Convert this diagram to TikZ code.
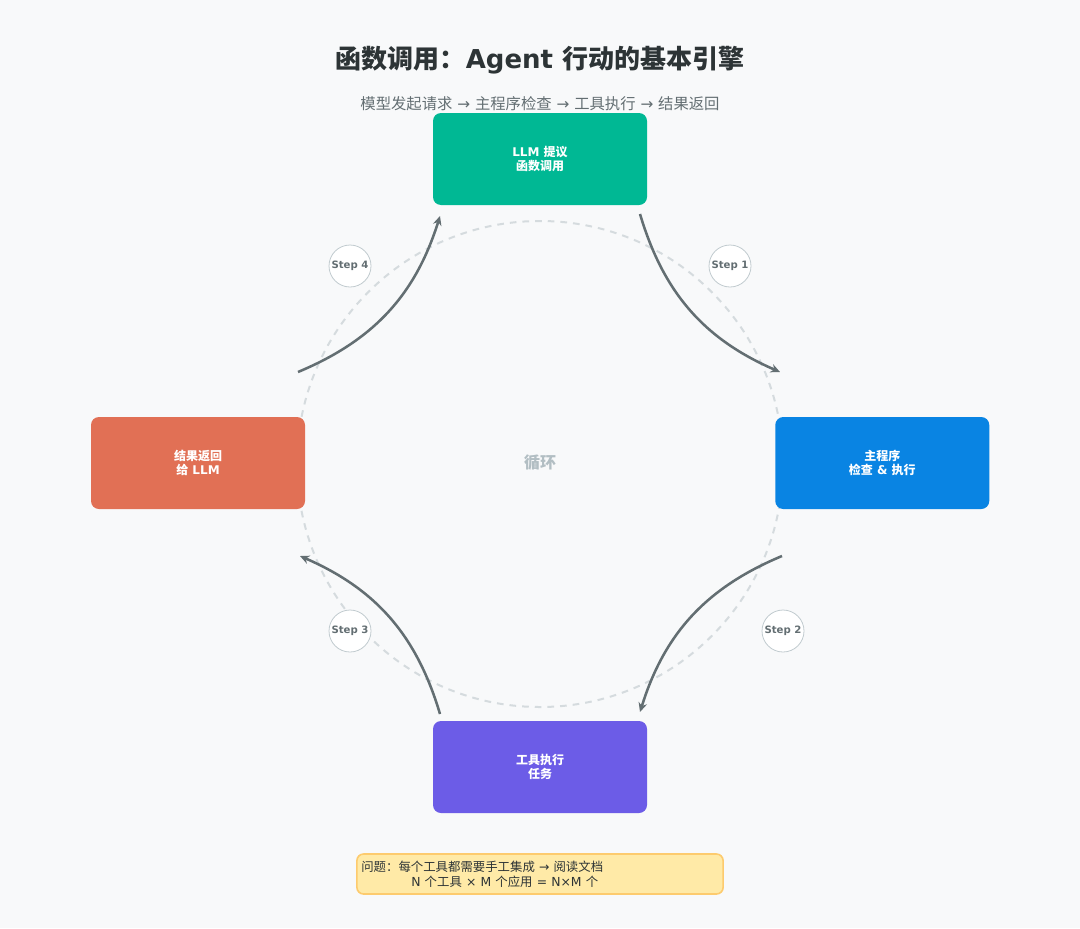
\documentclass[tikz,border=0pt]{standalone}
\usepackage{fontspec}
\setmainfont{DejaVu Sans}
\newfontfamily\zhfont{Noto Sans CJK SC}
\newcommand{\zh}[1]{{\zhfont #1}}
\usetikzlibrary{arrows.meta,calc}
\definecolor{bgcol}{HTML}{F8F9FA}
\definecolor{ink}{HTML}{2D3436}
\definecolor{greytxt}{HTML}{636E72}
\definecolor{ringcol}{HTML}{D5DBDE}
\definecolor{softgrey}{HTML}{B2BEC3}
\definecolor{llmcol}{HTML}{00B894}
\definecolor{progcol}{HTML}{0984E3}
\definecolor{toolcol}{HTML}{6C5CE7}
\definecolor{backcol}{HTML}{E17055}
\definecolor{notefill}{HTML}{FFEAA7}
\definecolor{noteline}{HTML}{FDCB6E}
\tikzset{
  stagebox/.style = {rectangle, rounded corners=6pt, minimum width=160.5pt,
    minimum height=69pt, text=white, align=center, font=\bfseries\fontsize{9}{10}\selectfont},
  stepdot/.style = {circle, draw=softgrey!80, line width=0.6pt, fill=white,
    minimum size=31.5pt, inner sep=0pt, text=greytxt, font=\bfseries\fontsize{7.6}{9}\selectfont},
  flow/.style = {draw=greytxt, line width=1.9pt, -{Stealth[length=7pt,width=6.5pt]}},
}
\begin{document}
\begin{tikzpicture}[x=0.75pt, y=-0.75pt, node distance=228pt]
    % background and frame
    \fill[bgcol] (0,0) rectangle (1080,928);
    % titles
    \node[text=ink, font=\bfseries\fontsize{19.5}{22}\selectfont] (title) at (540,60)
        {\zh{函数调用：}Agent \zh{行动的基本引擎}};
    \node[text=greytxt, font=\fontsize{11.5}{13}\selectfont] (subtitle) at (540,104)
        {\zh{模型发起请求} → \zh{主程序检查} → \zh{工具执行} → \zh{结果返回}};
    % ring
    \draw[ringcol, line width=1.5pt, dash pattern=on 5pt off 4.5pt] (540,464) circle[radius=182.25pt];
    \node[text=softgrey, font=\bfseries\fontsize{12}{14}\selectfont] (loop) at (540,463) {\zh{循环}};
    % Place nodes
    \node[stagebox, fill=llmcol, above of=loop, node distance=228pt] (llm)
        {LLM \zh{提议}\\\zh{函数调用}};
    \node[stagebox, fill=progcol, right of=loop, node distance=256.7pt] (prog)
        {\zh{主程序}\\\zh{检查} \& \zh{执行}};
    \node[stagebox, fill=toolcol, below of=loop, node distance=228pt] (tool)
        {\zh{工具执行}\\\zh{任务}};
    \node[stagebox, fill=backcol, left of=loop, node distance=256.5pt] (back)
        {\zh{结果返回}\\\zh{给} LLM};
    % step badges
    \node[stepdot] (st1) at (730,266) {Step 1};
    \node[stepdot] (st2) at (783,631) {Step 2};
    \node[stepdot] (st3) at (350,631) {Step 3};
    \node[stepdot] (st4) at (350,266) {Step 4};
    % arrow ends
    \coordinate (a1) at (640,214);  \coordinate (b1) at (780,372);
    \coordinate (a2) at (782,556);  \coordinate (b2) at (640,712);
    \coordinate (a3) at (440,714);  \coordinate (b3) at (300,556);
    \coordinate (a4) at (298,372);  \coordinate (b4) at (440,216);
    % Draw edges
    \path[flow] (a1) to[bend right=25] (b1);
    \path[flow] (a2) to[bend right=25] (b2);
    \path[flow] (a3) to[bend right=25] (b3);
    \path[flow] (a4) to[bend right=25] (b4);
    % note
    \node[rectangle, rounded corners=5pt, fill=notefill, draw=noteline, line width=1.2pt,
        minimum width=274.5pt, minimum height=30pt, text width=268pt, align=left,
        text=ink, font=\fontsize{9.3}{11.2}\selectfont] (note) at (540,874)
        {\zh{问题：每个工具都需要手工集成} → \zh{阅读文档}\\
         \hspace*{37.5pt}N \zh{个工具} × M \zh{个应用} = N×M \zh{个}};
\end{tikzpicture}
\end{document}
